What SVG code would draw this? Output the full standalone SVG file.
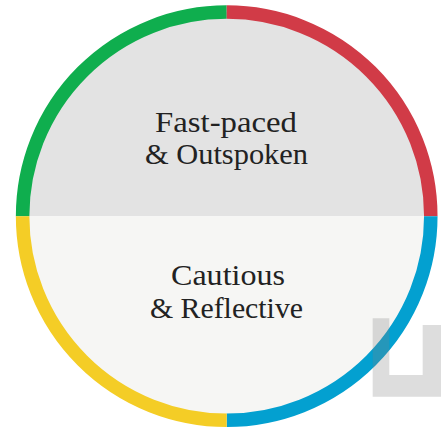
<svg xmlns="http://www.w3.org/2000/svg" width="441" height="428" viewBox="0 0 441 428">
  <style>
    .lbl { font-family: "Roboto Slab", "Liberation Serif", "DejaVu Serif", serif; font-size: 30px; fill: #222222; text-anchor: middle; }
    .arc { fill: none; stroke-width: 13.5; }
  </style>
  <rect width="441" height="428" fill="#ffffff"/>
  <g id="top-half">
    <path d="M 22.6 216.2 A 204.1 204.1 0 0 1 430.8 216.2 Z" fill="#e3e3e3"/>
    <text class="lbl" x="226" y="132" textLength="142" lengthAdjust="spacingAndGlyphs">Fast-paced</text>
    <text class="lbl" x="226.5" y="164" textLength="163" lengthAdjust="spacingAndGlyphs">&amp; Outspoken</text>
  </g>
  <g id="bottom-half">
    <path d="M 22.6 216.2 A 204.1 204.1 0 0 0 430.8 216.2 Z" fill="#f6f6f4"/>
    <text class="lbl" x="228" y="285" textLength="114" lengthAdjust="spacingAndGlyphs">Cautious</text>
    <text class="lbl" x="226.5" y="318" textLength="153" lengthAdjust="spacingAndGlyphs">&amp; Reflective</text>
  </g>
  <g id="ring">
    <path class="arc" stroke="#0fae4e" d="M 22.6 216.2 A 204.1 204.1 0 0 1 226.7 12.1"/>
    <path class="arc" stroke="#d13b47" d="M 226.7 12.1 A 204.1 204.1 0 0 1 430.8 216.2"/>
    <path class="arc" stroke="#03a0d0" d="M 430.8 216.2 A 204.1 204.1 0 0 1 226.7 420.3"/>
    <path class="arc" stroke="#f4cd26" d="M 226.7 420.3 A 204.1 204.1 0 0 1 22.6 216.2"/>
  </g>
  <g id="logo">
    <path d="M 372.7 318.3 H 389.3 V 375 H 422.7 V 325 H 441 V 396.7 H 372.7 Z" fill="#808080" fill-opacity="0.27"/>
  </g>
</svg>
